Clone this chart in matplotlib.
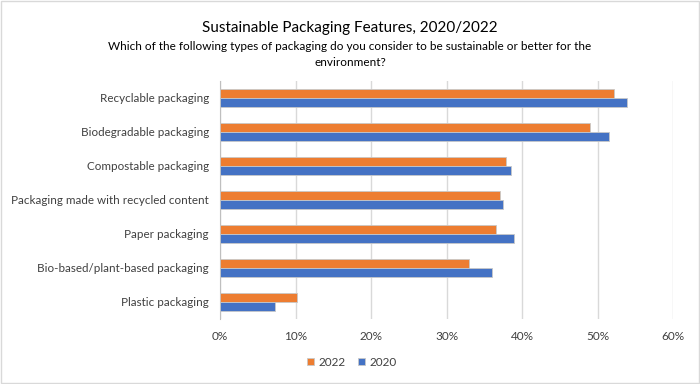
import matplotlib
matplotlib.use("Agg")
import matplotlib.pyplot as plt
import numpy as np
from matplotlib.patches import Rectangle

categories = ["Recyclable packaging", "Biodegradable packaging", "Compostable packaging",
              "Packaging made with recycled content", "Paper packaging",
              "Bio-based/plant-based packaging", "Plastic packaging"]
v2022 = [52.2, 49.0, 37.9, 37.1, 36.6, 33.0, 10.2]
v2020 = [53.9, 51.5, 38.5, 37.5, 39.0, 36.0, 7.3]
xticks = [0, 10, 20, 30, 40, 50, 60]
xticklabels = ["0%", "10%", "20%", "30%", "40%", "50%", "60%"]

plt.rcParams['font.family'] = ['Lato', 'DejaVu Sans']

fig = plt.figure(figsize=(7.0, 3.84), dpi=100)
ax = fig.add_axes([220/700, 1-319/384, 453/700, 238/384])

y = np.arange(len(categories))
h = 0.27
c22 = "#ED7D31"
c20 = "#4472C4"
ax.barh(y - h/2, v2022, height=h, color=c22, edgecolor="#c8c8c8", linewidth=0.6, label="2022", zorder=3)
ax.barh(y + h/2, v2020, height=h, color=c20, edgecolor="#c8c8c8", linewidth=0.6, label="2020", zorder=3)

ax.set_ylim(len(categories) - 0.5, -0.5)
ax.set_xlim(0, 60)
ax.set_xticks(xticks)
ax.set_xticklabels(xticklabels, fontsize=8.5, color="#404040")
ax.set_yticks(y)
ax.set_yticklabels(categories, fontsize=8.4, color="#404040")
ax.tick_params(axis='both', length=0)
ax.tick_params(axis='x', pad=9)
ax.tick_params(axis='y', pad=8)
ax.grid(axis='x', color="#d9d9d9", linewidth=1, zorder=0)
for s in ["top", "right", "bottom"]:
    ax.spines[s].set_visible(False)
ax.spines["left"].set_color("#bfbfbf")

fig.text(0.5, 1-28/384, "Sustainable Packaging Features, 2020/2022", ha="center", va="center",
         fontsize=11, color="#000000")
fig.text(0.5, 1-47/384, "Which of the following types of packaging do you consider to be sustainable or better for the",
         ha="center", va="center", fontsize=8.5, color="#000000")
fig.text(0.5, 1-63/384, "environment?", ha="center", va="center", fontsize=8.5, color="#000000")

leg = fig.legend(loc="center", bbox_to_anchor=(352/700, 1-362/384), ncol=2, frameon=False,
                 fontsize=8.5, handlelength=0.6, handleheight=0.6, handletextpad=0.4, columnspacing=1.0)
for t in leg.get_texts():
    t.set_color("#404040")

fig.patches.append(Rectangle((0.002, 0.003), 0.996, 0.994, transform=fig.transFigure,
                             fill=False, edgecolor="#d9d9d9", linewidth=1))

fig.savefig("out.png", dpi=100)
